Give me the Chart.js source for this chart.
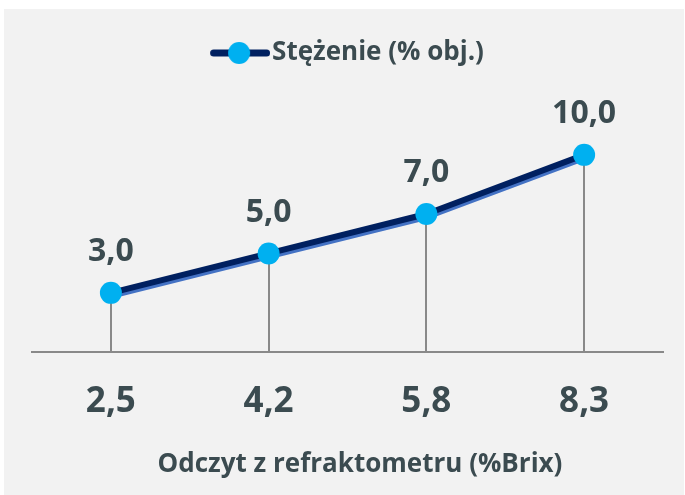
<!DOCTYPE html>
<html><head><meta charset="utf-8">
<script src="https://cdn.jsdelivr.net/npm/chart.js@4.4.1/dist/chart.umd.min.js"></script>
<style>html,body{margin:0;padding:0;background:#fff;overflow:hidden}canvas{display:block}</style>
</head><body>
<canvas id="c" width="685" height="495"></canvas>
<script>
const categories = ['2,5', '4,2', '5,8', '8,3'];
const values = [3.0, 5.0, 7.0, 10.0];
const valueLabels = ['3,0', '5,0', '7,0', '10,0'];
const seriesName = 'Stężenie (% obj.)';
const axisTitle = 'Odczyt z refraktometru (%Brix)';
const yMin = 0, yMax = 14;

const TEXT = '#3b4b50';
const NAVY = '#002060';
const SHADOW = '#4472c4';
const DOT = '#00b0f0';
const GRAY = '#898989';
const FONT = '"Open Sans"';

function legendIcon() {
  const c = document.createElement('canvas');
  c.width = 70; c.height = 24;
  const g = c.getContext('2d');
  g.strokeStyle = NAVY; g.lineWidth = 7; g.lineCap = 'round';
  g.beginPath(); g.moveTo(13.5, 12); g.lineTo(66.5, 12); g.stroke();
  g.fillStyle = DOT; g.beginPath(); g.arc(39, 12, 11, 0, Math.PI * 2); g.fill();
  return c;
}
const icon = legendIcon();

const bgPlugin = {
  id: 'bg',
  beforeDraw(chart) {
    const ctx = chart.ctx;
    ctx.save();
    ctx.fillStyle = '#ffffff';
    ctx.fillRect(0, 0, chart.width, chart.height);
    ctx.fillStyle = '#f2f2f2';
    ctx.fillRect(4, 9, 680, 486);
    ctx.restore();
  }
};

const dropPlugin = {
  id: 'drops',
  beforeDatasetsDraw(chart) {
    const ctx = chart.ctx, xs = chart.scales.x, ys = chart.scales.y;
    ctx.save();
    ctx.strokeStyle = GRAY; ctx.lineWidth = 2;
    values.forEach((v, i) => {
      const x = Math.round(xs.getPixelForValue(i));
      ctx.beginPath();
      ctx.moveTo(x, ys.getPixelForValue(v));
      ctx.lineTo(x, chart.chartArea.bottom);
      ctx.stroke();
    });
    ctx.restore();
  }
};

const shadowPlugin = {
  id: 'shadow',
  beforeDatasetDraw(chart, args) {
    if (args.index === 0) {
      const ctx = chart.ctx;
      ctx.save();
      ctx.shadowColor = SHADOW; ctx.shadowOffsetX = 0; ctx.shadowOffsetY = 3; ctx.shadowBlur = 0;
    }
  },
  afterDatasetDraw(chart, args) {
    if (args.index === 0) chart.ctx.restore();
  }
};

const labelPlugin = {
  id: 'vlabels',
  afterDatasetsDraw(chart) {
    const ctx = chart.ctx, xs = chart.scales.x, ys = chart.scales.y;
    ctx.save();
    ctx.fillStyle = TEXT;
    ctx.font = 'bold 32px ' + FONT;
    ctx.textAlign = 'center'; ctx.textBaseline = 'middle';
    values.forEach((v, i) => {
      ctx.fillText(valueLabels[i], xs.getPixelForValue(i), ys.getPixelForValue(v) - 41);
    });
    ctx.font = 'bold 26px ' + FONT;
    ctx.fillText(axisTitle, 360, 465);
    ctx.restore();
  }
};

new Chart(document.getElementById('c'), {
  type: 'line',
  data: {
    labels: categories,
    datasets: [
      { label: seriesName, data: values, borderColor: NAVY, borderWidth: 6, pointRadius: 0, pointHoverRadius: 0, fill: false, tension: 0, order: 2, borderCapStyle: 'round', borderJoinStyle: 'round' },
      { label: seriesName, data: values, showLine: false, pointRadius: 11, pointBackgroundColor: DOT, pointBorderWidth: 0, pointBorderColor: DOT, order: 1 }
    ]
  },
  options: {
    responsive: false,
    devicePixelRatio: 1,
    animation: false,
    events: [],
    layout: { padding: { top: 30, left: 32, right: 22, bottom: 43 } },
    plugins: {
      tooltip: { enabled: false },
      legend: {
        position: 'top',
        labels: {
          usePointStyle: true,
          pointStyleWidth: 48,
          padding: 10,
          color: TEXT,
          font: { family: 'Open Sans', size: 26, weight: 'bold' },
          generateLabels() {
            return [{ text: seriesName, pointStyle: icon, fontColor: TEXT, datasetIndex: 0, lineWidth: 0, hidden: false }];
          }
        }
      }
    },
    scales: {
      x: {
        offset: true,
        grid: { display: false, drawTicks: false },
        border: { display: true, color: GRAY, width: 2 },
        ticks: { color: TEXT, padding: 29, font: { family: 'Open Sans', size: 35, weight: 'bold' } }
      },
      y: { display: false, min: yMin, max: yMax }
    }
  },
  plugins: [bgPlugin, dropPlugin, shadowPlugin, labelPlugin]
});
</script>
</body></html>
